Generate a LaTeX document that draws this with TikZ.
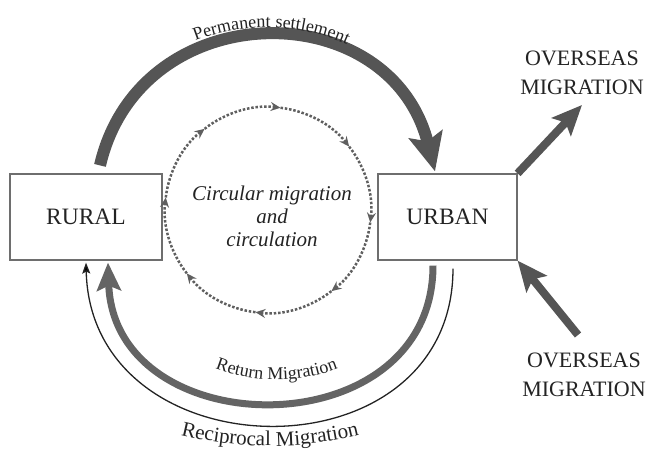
\documentclass[tikz,border=0pt]{standalone}
\usepackage{fontspec}
\setmainfont{Liberation Serif}
\usetikzlibrary{arrows.meta,decorations.text}

\definecolor{boxgray}{RGB}{110,110,110}
\definecolor{flowgray}{RGB}{85,85,85}
\definecolor{retgray}{RGB}{100,100,100}
\definecolor{dotgray}{RGB}{95,95,95}
\definecolor{inkblack}{RGB}{35,35,35}

\tikzset{
    areabox/.style={draw=boxgray, line width=1.2pt, minimum height=86pt, inner sep=0pt,
        font=\fontsize{23.5}{26}\selectfont, text=inkblack},
    capslabel/.style={align=center, inner sep=0pt, font=\fontsize{22}{29}\selectfont, text=inkblack},
    bigflow/.style={draw=flowgray, line width=12pt, -{Stealth[length=38pt,width=34pt,inset=7pt]}},
    retflow/.style={draw=retgray, line width=7pt, -{Stealth[length=28pt,width=24pt,inset=5pt]}},
    recflow/.style={draw=inkblack, line width=1.3pt, -{Stealth[length=11pt,width=8pt,inset=2pt]}},
    seaflow/.style={draw=flowgray, line width=8pt, -{Stealth[length=30pt,width=26pt,inset=6pt]}},
    circflow/.style={draw=dotgray, line width=2.5pt, dash pattern=on 2.5pt off 1.8pt,
        -{Stealth[length=10pt,width=9pt,inset=3.5pt]}}
}

\begin{document}
\begin{tikzpicture}[x=1pt, y=1pt]
    \useasboundingbox (0,0) rectangle (649,450);

    % the two areas
    \node[areabox, minimum width=152pt] (rural) at (86,233) {RURAL};
    \node[areabox, minimum width=139pt] (urban) at (447.5,233) {URBAN};

    % circular migration in the middle
    \coordinate (hub) at (268,240);
    \foreach \a in {128,83,38,-7,-52,-97,-142,-187}
        \draw[circflow] (hub) ++(\a+45:103) arc[start angle=\a+45, end angle=\a, radius=103];
    \node[align=center, inner sep=0pt, text=inkblack, font=\fontsize{21}{23}\selectfont\itshape]
        (circtext) at (272,234) {Circular migration\\and\\circulation};

    % permanent settlement
    \draw[bigflow] ([xshift=14pt, yshift=8pt]rural.north)
        .. controls +(40,172) and +(-45,179) .. ([xshift=-12.5pt, yshift=2pt]urban.north);
    \path[decorate, decoration={text along path, text align=center, text color=inkblack,
        text={|\fontsize{18}{20}\selectfont|Permanent settlement}}]
        (90,285) .. controls (130,467) and (404,472) .. (449,278);

    % return and reciprocal migration
    \draw[retflow] ([xshift=-14.5pt, yshift=-5pt]urban.south)
        .. controls +(0,-184) and +(6,-184) .. ([xshift=22pt, yshift=-2pt]rural.south);
    \draw[recflow] ([xshift=5.5pt, yshift=-8pt]urban.south)
        .. controls +(0,-213) and +(5,-213) .. ([yshift=-2pt]rural.south);
    \path[decorate, decoration={text along path, text align=center, text color=inkblack,
        text={|\fontsize{18}{20}\selectfont|Return Migration}}]
        (134,200) .. controls +(0,-173) and +(0,-173) .. (419,200);
    \path[decorate, decoration={text along path, text align=center, text color=inkblack,
        text={|\fontsize{21}{24}\selectfont|Reciprocal Migration}}]
        (130,31) .. controls (223,-5) and (317,-5) .. (410,31);

    % overseas
    \node[capslabel] (seatop) at (582,377) {OVERSEAS\\MIGRATION};
    \node[capslabel] (seabot) at (584,75) {OVERSEAS\\MIGRATION};
    \coordinate (seaout) at (582,345);
    \coordinate (seain) at (578,115);
    \draw[seaflow] (urban.north east) -- (seaout);
    \draw[seaflow] (seain) -- (urban.south east);
\end{tikzpicture}
\end{document}
